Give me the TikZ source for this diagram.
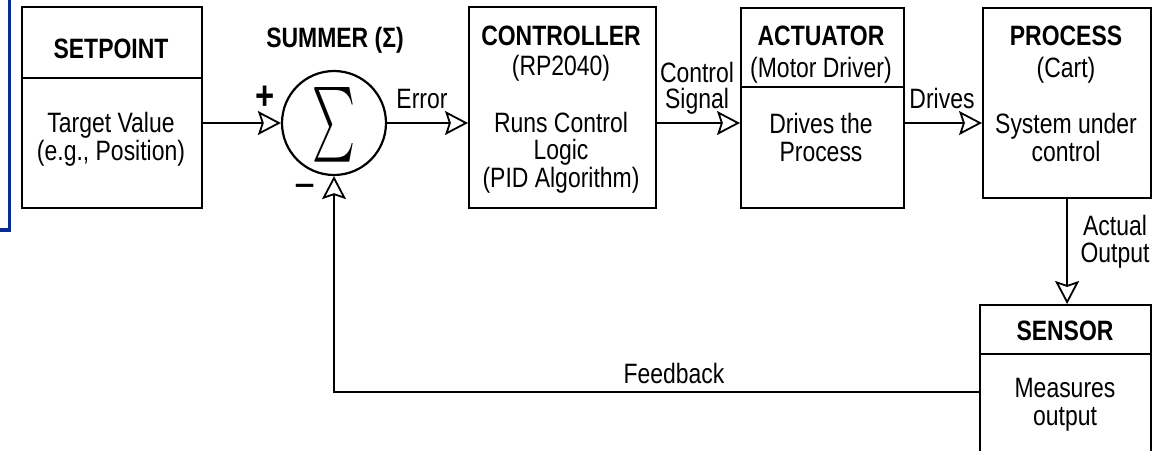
\documentclass[tikz,border=0pt]{standalone}
\usepackage{fontspec}
\setmainfont{Liberation Sans}[FakeStretch=0.82]
\usetikzlibrary{arrows.meta}
\definecolor{navy}{RGB}{10,43,143}
\begin{document}
\begin{tikzpicture}[x=1pt,y=-1pt,
  box/.style={draw, line width=2.2pt, anchor=north west, inner sep=0pt},
  divider/.style={line width=2pt},
  arr/.style={line width=1.8pt, -{Stealth[open, inset=4pt, length=23pt, width=24pt, line width=1.8pt]}},
  txt/.style={font=\fontsize{28}{28}\selectfont, anchor=base, inner sep=0pt},
  ttl/.style={font=\fontsize{28}{28}\selectfont\bfseries, anchor=base, inner sep=0pt},
  sgn/.style={inner sep=0pt}]
\useasboundingbox (0,0) rectangle (1153,450);

% blue frame edge
\draw[navy, line width=3.5pt] (9.5,0) -- (9.5,230) -- (0,230);

% boxes
\node[box, minimum width=180pt, minimum height=201pt] (sp) at (21,6) {};
\node[draw, circle, line width=2.2pt, minimum size=104pt, inner sep=0pt] (sum) at (334,123) {};
\node[box, minimum width=187pt, minimum height=201pt] (ctrl) at (468,6) {};
\node[box, minimum width=163pt, minimum height=200pt] (act) at (740,7) {};
\node[box, minimum width=168pt, minimum height=190pt] (proc) at (982,7) {};
\node[box, minimum width=171pt, minimum height=160pt] (sen) at (979,304) {};

% dividers
\draw[divider] (sp.west |- 0,78) -- (sp.east |- 0,78);
\draw[divider] (act.west |- 0,87) -- (act.east |- 0,87);
\draw[divider] (sen.west |- 0,354) -- (sen.east |- 0,354);

% texts
\node[ttl] (spT) at (111,58) {SETPOINT};
\node[txt] (spA) at (111,132) {Target Value};
\node[txt] (spB) at (111,160) {(e.g., Position)};

\node[ttl] (sumT) at (335,47) {SUMMER (Σ)};
\node[inner sep=0pt] (sig) at (334,125) {\resizebox{43pt}{56pt}{$\sum$}};
\node[sgn, font=\fontsize{40}{40}\selectfont\bfseries] (plus) at (265,98) {+};
\node[sgn, font=\fontsize{44}{44}\selectfont] (minus) at (305,192) {−};

\node[ttl] (ctT) at (561,45) {CONTROLLER};
\node[txt] (ctA) at (561,75) {(RP2040)};
\node[txt] (ctB) at (561,132) {Runs Control};
\node[txt] (ctC) at (561,159) {Logic};
\node[txt] (ctD) at (561,187) {(PID Algorithm)};

\node[ttl] (acT) at (821,45) {ACTUATOR};
\node[txt] (acA) at (821,77) {(Motor Driver)};
\node[txt] (acB) at (821,133) {Drives the};
\node[txt] (acC) at (821,161) {Process};

\node[ttl] (prT) at (1066,45) {PROCESS};
\node[txt] (prA) at (1066,77) {(Cart)};
\node[txt] (prB) at (1066,133) {System under};
\node[txt] (prC) at (1066,161) {control};

\node[ttl] (seT) at (1065,340) {SENSOR};
\node[txt] (seA) at (1065,397) {Measures};
\node[txt] (seB) at (1065,425) {output};

\node[txt] (lErr) at (422,108) {Error};
\node[txt] (lCS1) at (697,82) {Control};
\node[txt] (lCS2) at (697,108) {Signal};
\node[txt] (lDr) at (942,108) {Drives};
\node[txt] (lAO1) at (1115,235) {Actual};
\node[txt] (lAO2) at (1115,262) {Output};
\node[txt] (lFb) at (674,383) {Feedback};

% connectors
\coordinate (fbc) at (334,392);
\draw[arr] (sp.east |- sum) -- (sum.west);
\draw[arr] (sum.east) -- (ctrl.west |- sum);
\draw[arr] (ctrl.east |- sum) -- (act.west |- sum);
\draw[arr] (act.east |- sum) -- (proc.west |- sum);
\draw[arr] (proc.south) -- (proc.south |- sen.north);
\draw[arr] (sen.west |- fbc) -- (fbc) -- (sum.south);
\end{tikzpicture}
\end{document}
